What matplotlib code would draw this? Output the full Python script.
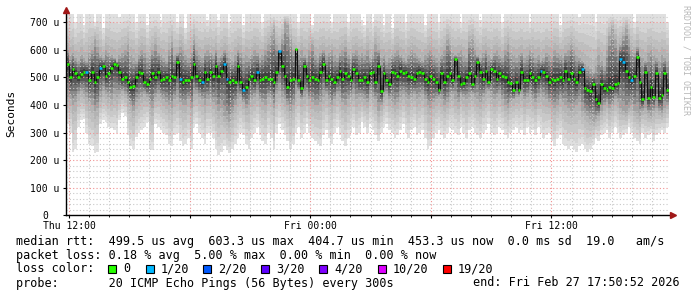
from datetime import datetime
import numpy as np
import matplotlib
matplotlib.use("Agg")
import matplotlib.pyplot as plt
import matplotlib.dates as mdates
from matplotlib.patches import Rectangle
from matplotlib.ticker import FixedLocator, FuncFormatter

# time window (end taken from the legend)
t_start = datetime(2026, 2, 26, 11, 50, 52)
t_end = datetime(2026, 2, 27, 17, 50, 52)

# median rtt in microseconds left to right
median = [550, 500, 530, 515, 500, 512, 520, 520, 490, 520, 485, 500, 535, 540, 505, 515, 535, 550, 545, 520,
          495, 500, 485, 465, 470, 500, 520, 515, 485, 475, 495, 515, 500, 520, 490, 495, 500, 490, 505, 500,
          555, 495, 485, 490, 490, 500, 550, 505, 490, 485, 520, 495,
          520, 505, 540, 505, 525, 550, 495, 485, 490, 485, 540, 485, 455, 467, 495, 505, 490, 520, 490, 495,
          500, 495, 495, 485, 520, 595, 540, 505, 467, 490, 495, 603, 490, 460, 540, 505, 490, 500, 495, 490,
          520, 550, 490, 505, 495, 485, 500, 525, 495, 515, 505, 490, 530, 515, 490,
          490, 500, 485, 515, 520, 485, 540, 450, 515, 490, 475, 520, 515, 505, 525, 515, 520, 505, 500, 495,
          515, 520, 515, 495, 485, 505, 495, 485, 455, 515, 485, 505, 515, 490, 565, 505, 475, 480, 500, 515,
          475, 505, 555, 520, 495, 525, 485, 530, 525, 495, 515, 505, 500, 485, 480, 455, 485,
          455, 520, 490, 490, 515, 500, 490, 500, 525, 520, 505, 485, 495, 490, 495, 500, 490, 525, 495, 515,
          495, 485, 520, 530, 460, 455, 450, 475, 423, 406, 475, 460, 455, 465, 460, 475, 480, 565, 555, 525,
          500, 490, 505, 575, 485, 420, 520, 425, 465, 430, 515, 425, 435, 515, 453]

# samples that lost 1 of 20 pings
loss_1_idx = [7, 12, 41, 49, 57, 58, 64, 69, 77, 172, 187, 201, 202, 205]

# smoke: spread of the 20 pings per sample (microseconds)
s_max = [730, 730, 730, 700, 730, 730, 690, 730, 730, 730, 700, 730, 730, 680, 730, 730, 730, 730, 730, 720,
         730, 730, 730, 730, 730, 700, 730, 730, 730, 690, 730, 730, 730, 730, 710, 730, 730, 730, 730, 730,
         700, 730, 730, 680, 730, 730, 730, 730, 730, 730, 730, 710,
         730, 730, 730, 710, 730, 730, 730, 700, 730, 730, 730, 730, 690, 730, 730, 730, 730, 730, 730, 700,
         730, 730, 730, 730, 730, 730, 730, 730, 730, 730, 730, 730, 700, 730, 730, 730, 730, 690, 730, 730,
         730, 730, 730, 730, 700, 730, 730, 730, 730, 730, 700, 730, 730, 730, 730,
         710, 690, 730, 730, 700, 730, 730, 730, 690, 730, 730, 680, 730, 730, 730, 730, 700, 730, 730, 730,
         730, 730, 730, 690, 730, 730, 730, 730, 700, 730, 730, 730, 730, 730, 730, 730, 700, 730, 730, 730,
         730, 730, 730, 710, 730, 730, 730, 730, 730, 730, 730, 700, 730, 730, 730, 730, 730,
         730, 730, 730, 730, 700, 730, 730, 730, 730, 730, 730, 730, 730, 730, 730, 690, 730, 730, 730, 730,
         730, 730, 720, 730, 730, 730, 730, 730, 700, 730, 730, 730, 730, 730, 730, 730, 730, 730, 730, 730,
         730, 730, 700, 730, 730, 730, 730, 730, 730, 730, 730, 730, 730, 730, 700]
s_hi = [600, 580, 590, 570, 560, 580, 570, 560, 590, 600, 640, 610, 580, 570, 600, 590, 580, 570, 560, 580,
        590, 600, 620, 580, 570, 560, 580, 600, 590, 570, 580, 600, 620, 590, 580, 570, 560, 600, 630, 580,
        590, 610, 600, 580, 570, 590, 640, 600, 580, 570, 590, 600,
        590, 580, 600, 570, 580, 600, 590, 570, 560, 580, 600, 590, 570, 580, 570, 580, 600, 590, 570, 580,
        600, 620, 650, 680, 620, 600, 640, 700, 690, 640, 600, 590, 580, 600, 580, 570, 600, 620, 580, 570,
        590, 600, 580, 590, 600, 580, 570, 590, 600, 610, 580, 570, 590, 600, 580,
        590, 580, 600, 570, 580, 620, 600, 570, 580, 560, 570, 580, 590, 600, 580, 570, 560, 580, 600, 590,
        580, 570, 560, 580, 590, 600, 580, 570, 560, 580, 600, 640, 620, 590, 580, 590, 600, 580, 570, 630,
        640, 600, 580, 570, 590, 600, 580, 570, 590, 600, 580, 570, 600, 620, 590, 580, 570,
        580, 590, 570, 580, 600, 590, 570, 580, 560, 570, 590, 580, 570, 600, 590, 580, 570, 590, 600, 620,
        600, 580, 570, 560, 550, 540, 530, 520, 540, 580, 560, 540, 600, 650, 680, 640, 600, 620, 650, 680,
        640, 600, 590, 610, 580, 570, 560, 590, 600, 580, 570, 560, 580, 570, 560]
s_lo = [430, 420, 400, 410, 440, 450, 440, 430, 410, 400, 380, 390, 430, 450, 440, 430, 420, 440, 430, 440,
        450, 440, 420, 400, 380, 410, 420, 430, 440, 430, 400, 390, 430, 440, 430, 420, 410, 400, 390, 420,
        430, 410, 400, 400, 420, 390, 440, 440, 430, 420, 400, 420,
        420, 410, 400, 380, 390, 360, 350, 340, 370, 400, 420, 430, 410, 390, 400, 420, 430, 440, 420, 410,
        400, 430, 420, 390, 440, 450, 430, 420, 400, 380, 400, 440, 450, 420, 430, 440, 420, 410, 400, 400,
        410, 430, 440, 420, 400, 420, 440, 430, 410, 400, 420, 430, 440, 420, 430,
        430, 420, 410, 440, 430, 420, 380, 400, 430, 440, 420, 410, 400, 410, 430, 440, 430, 420, 430, 440,
        420, 430, 440, 420, 400, 390, 410, 420, 430, 420, 400, 410, 430, 440, 420, 410, 440, 430, 420, 430,
        440, 430, 420, 410, 430, 440, 450, 430, 420, 430, 440, 420, 400, 390, 410, 420, 430,
        430, 440, 420, 430, 440, 420, 410, 430, 440, 430, 420, 410, 400, 390, 400, 420, 410, 400, 390, 380,
        390, 400, 410, 380, 370, 360, 350, 340, 350, 360, 380, 400, 410, 390, 400, 420, 410, 390, 380, 370,
        390, 400, 380, 370, 360, 380, 390, 370, 360, 380, 390, 380, 370, 390, 400]
s_min = [330, 300, 230, 240, 320, 345, 350, 300, 260, 250, 225, 230, 330, 345, 340, 320, 315, 310, 300, 345,
         370, 360, 290, 250, 240, 285, 300, 310, 320, 340, 240, 235, 330, 320, 310, 300, 290, 260, 250, 290,
         300, 270, 250, 260, 280, 240, 320, 330, 300, 280, 260, 300,
         300, 280, 240, 220, 230, 250, 235, 225, 240, 260, 280, 300, 290, 260, 240, 280, 300, 320, 290, 270,
         260, 300, 280, 240, 300, 330, 310, 290, 270, 240, 260, 300, 320, 280, 300, 330, 300, 280, 270, 260,
         250, 290, 310, 280, 260, 300, 320, 290, 270, 250, 280, 300, 320, 290, 300,
         340, 320, 300, 330, 310, 290, 270, 300, 320, 330, 310, 300, 280, 290, 310, 330, 300, 280, 310, 320,
         290, 300, 310, 280, 240, 250, 280, 300, 310, 290, 280, 300, 320, 310, 300, 290, 320, 300, 280, 310,
         320, 300, 290, 280, 300, 310, 330, 300, 290, 300, 320, 310, 290, 280, 300, 310, 320,
         300, 310, 290, 320, 300, 310, 290, 320, 300, 280, 290, 300, 270, 250, 280, 290, 260, 250, 240, 250,
         240, 230, 250, 260, 240, 230, 240, 260, 280, 270, 290, 300, 310, 280, 300, 320, 300, 280, 290, 300,
         320, 300, 280, 270, 260, 300, 280, 290, 300, 270, 290, 300, 310, 300, 320]

loss_colors = {"0": "#26ff00", "1/20": "#00b8ff", "2/20": "#0059ff", "3/20": "#5e00ff",
               "4/20": "#7e00ff", "10/20": "#dd00ff", "19/20": "#ff0000"}

W, H = 697, 297
plt.rcParams["font.family"] = "DejaVu Sans Mono"

fig = plt.figure(figsize=(W / 100, H / 100), dpi=100)
ax = fig.add_axes([66 / W, (H - 215.3) / H, (669 - 66) / W, (215.3 - 14) / H])

x0, x1 = mdates.date2num(t_start), mdates.date2num(t_end)
edges = np.linspace(x0, x1, len(median) + 1)

med = np.array(median, float)
lo_outer, lo_inner = np.array(s_min, float), np.array(s_lo, float)
hi_inner, hi_outer = np.array(s_hi, float), np.array(s_max, float)


def smoke(a, b, g_a, g_b, steps=5):
    # shade from grey level g_a at bound a to g_b at bound b
    for k in range(steps):
        lo = a + (b - a) * k / steps
        hi = a + (b - a) * (k + 1) / steps
        g = g_a + (g_b - g_a) * (k + 0.5) / steps
        ax.stairs(np.maximum(lo, hi), edges, baseline=np.minimum(lo, hi), fill=True,
                  color=(g, g, g), lw=0, zorder=1)


smoke(lo_outer, lo_inner, 0.9, 0.68)
smoke(lo_inner, med, 0.68, 0.2)
smoke(med, hi_inner, 0.2, 0.68)
smoke(hi_inner, hi_outer, 0.68, 0.9)

ax.stairs(median, edges, baseline=None, color="#101010", lw=0.8, zorder=3)
colors = [loss_colors["1/20"] if i in loss_1_idx else loss_colors["0"] for i in range(len(median))]
ax.hlines(median, edges[:-1], edges[1:], colors=colors, lw=1.8, zorder=3.5)

ax.set_xlim(x0, x1)
ax.set_ylim(0, 730)

ax.yaxis.set_major_locator(FixedLocator(range(0, 800, 100)))
ax.yaxis.set_minor_locator(FixedLocator([v for v in range(0, 740, 20) if v % 100]))
ax.yaxis.set_major_formatter(FuncFormatter(lambda v, p: "0" if v == 0 else "%d u" % v))

ax.xaxis.set_major_locator(mdates.HourLocator(byhour=[0, 6, 12, 18]))
ax.xaxis.set_minor_locator(mdates.HourLocator(byhour=[h for h in range(24) if h % 6]))


def time_label(v, pos):
    d = mdates.num2date(v)
    return d.strftime("%a %H:%M") if d.hour in (0, 12) else ""


ax.xaxis.set_major_formatter(FuncFormatter(time_label))

ax.set_axisbelow(False)
ax.grid(which="major", color="#f09090", linestyle=(0, (1, 2)), lw=0.8)
ax.grid(which="minor", color="#c8c8c8", linestyle=(0, (1, 2)), lw=0.8)

for s in ("top", "right"):
    ax.spines[s].set_visible(False)
for s in ("left", "bottom"):
    ax.spines[s].set_color("black")
    ax.spines[s].set_linewidth(1)
    ax.spines[s].set_zorder(4)

ax.tick_params(axis="y", which="major", length=2.5, pad=12.5, labelsize=7)
ax.tick_params(axis="y", which="minor", length=0)
ax.tick_params(axis="x", which="major", length=2.5, pad=1.5, labelsize=7)
ax.tick_params(axis="x", which="minor", length=1.5)
for lab in ax.get_yticklabels():
    lab.set_horizontalalignment("center")

# axis arrows
ax.plot([0], [1.02], marker="^", color="#a01818", markersize=4, transform=ax.transAxes, clip_on=False, zorder=5)
ax.plot([1.006], [0], marker=">", color="#a01818", markersize=4, transform=ax.transAxes, clip_on=False, zorder=5)

fig.text(11 / W, 1 - 113 / H, "Seconds", rotation=90, ha="center", va="center", fontsize=8)
fig.text(686 / W, 1 - 5 / H, "RRDTOOL / TOBI OETIKER", rotation=270, ha="center", va="top",
         fontsize=6, color="#b8b8b8")

fs = 8.5


def row(px, py, txt, **kw):
    fig.text(px / W, 1 - py / H, txt, va="center", fontsize=fs, **kw)


row(16, 241, "median rtt:  499.5 us avg  603.3 us max  404.7 us min  453.3 us now  0.0 ms sd  19.0   am/s")
row(16, 255, "packet loss: 0.18 % avg  5.00 % max  0.00 % min  0.00 % now")
row(16, 269, "loss color:")
box_x = [108, 146, 203, 261, 319, 378, 443]
for bx, (lab, col) in zip(box_x, loss_colors.items()):
    fig.add_artist(Rectangle((bx / W, (H - 273) / H), 8 / W, 8 / H, transform=fig.transFigure,
                             facecolor=col, edgecolor="black", lw=0.8))
    row(bx + 15, 269, lab)
row(16, 283, "probe:       20 ICMP Echo Pings (56 Bytes) every 300s")
row(680, 283, "end: Fri Feb 27 17:50:52 2026", ha="right")

fig.savefig("out.png", dpi=100, facecolor="white")
